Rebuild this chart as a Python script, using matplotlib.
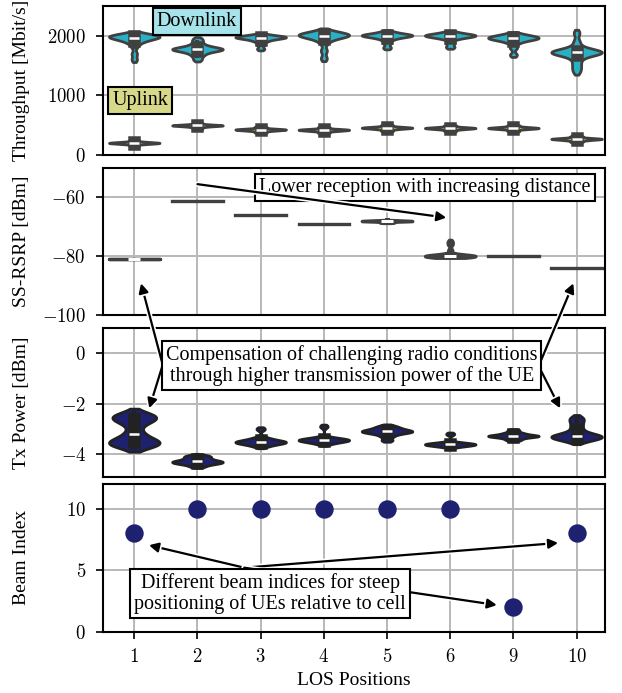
import matplotlib
matplotlib.use("Agg")
import matplotlib.pyplot as plt
import matplotlib.patheffects as pe
from matplotlib.ticker import FuncFormatter
import numpy as np
import pandas as pd
import seaborn as sns

plt.rcParams['font.family'] = ['Liberation Serif', 'DejaVu Serif']
plt.rcParams['mathtext.fontset'] = 'cm'
plt.rcParams['font.size'] = 14

positions = ['1', '2', '3', '4', '5', '6', '9', '10']

# throughput samples per position [Mbit/s]
dl_samples = {
    '1': [1600, 1700, 1820, 1880, 1910, 1930, 1950, 1960, 1970, 1980, 1985, 1990, 1995, 2000, 2010, 2020, 2030],
    '2': [1600, 1660, 1700, 1730, 1750, 1760, 1770, 1775, 1780, 1790, 1800, 1820, 1850, 1900, 1950],
    '3': [1780, 1850, 1900, 1930, 1950, 1960, 1970, 1975, 1980, 1985, 1990, 2000, 2020],
    '4': [1620, 1750, 1880, 1940, 1970, 1990, 2000, 2010, 2015, 2020, 2025, 2030, 2050, 2080],
    '5': [1800, 1880, 1940, 1970, 1990, 2000, 2005, 2010, 2015, 2020, 2040, 2070],
    '6': [1810, 1880, 1950, 1975, 1990, 2000, 2005, 2010, 2020, 2030, 2060],
    '9': [1680, 1800, 1880, 1920, 1940, 1950, 1960, 1965, 1970, 1980, 1990, 2010, 2030],
    '10': [1400, 1480, 1560, 1640, 1690, 1705, 1715, 1720, 1723, 1726, 1730, 1740, 1760, 1800, 1900, 2050],
}
ul_samples = {
    '1': [150, 180, 190, 195, 200, 203, 205, 210, 215, 225, 250],
    '2': [440, 470, 485, 490, 495, 498, 500, 505, 515, 540],
    '3': [380, 405, 415, 422, 427, 430, 435, 445, 470],
    '4': [370, 400, 410, 418, 422, 425, 430, 440, 470],
    '5': [400, 430, 445, 452, 456, 460, 465, 475, 500],
    '6': [400, 428, 440, 447, 452, 455, 460, 470, 495],
    '9': [400, 430, 442, 448, 452, 456, 462, 472, 495],
    '10': [220, 245, 258, 265, 270, 273, 278, 290, 315],
}
# SS-RSRP samples [dBm]
rsrp_samples = {
    '1': [-80.8, -80.8, -80.8],
    '2': [-61.1, -61.1, -61.1],
    '3': [-65.9, -65.9, -65.9],
    '4': [-69.0, -69.0, -69.0],
    '5': [-68.6, -68.4, -68.2, -68.1, -68.1, -68.0, -68.0, -67.9, -67.8],
    '6': [-80.0, -80.0, -80.0, -80.0, -80.0, -80.0, -80.0, -80.0, -80.0, -80.0, -80.0, -80.0,
          -79.8, -78.0, -76.0, -75.0],
    '9': [-80.0, -80.0, -80.0],
    '10': [-84.0, -84.0, -84.0],
}
# Tx power samples [dBm]
tx_samples = {
    '1': [-3.75, -3.7, -3.65, -3.62, -3.58, -3.55, -3.52, -3.48, -3.44, -3.38, -3.28, -3.19,
          -3.05, -2.85, -2.75, -2.68, -2.62, -2.58, -2.55, -2.5, -2.47, -2.42, -2.35],
    '2': [-4.5, -4.42, -4.38, -4.35, -4.33, -4.3, -4.28, -4.25, -4.2, -4.15, -4.1, -4.05],
    '3': [-3.7, -3.62, -3.58, -3.55, -3.53, -3.52, -3.5, -3.47, -3.42, -3.35, -3.0],
    '4': [-3.6, -3.52, -3.48, -3.46, -3.45, -3.44, -3.42, -3.4, -3.35, -2.9],
    '5': [-3.45, -3.3, -3.2, -3.15, -3.12, -3.1, -3.08, -3.05, -3.0, -2.95, -2.88],
    '6': [-3.7, -3.66, -3.63, -3.62, -3.61, -3.6, -3.58, -3.55, -3.2],
    '9': [-3.45, -3.38, -3.32, -3.3, -3.28, -3.27, -3.25, -3.2, -3.15, -3.05],
    '10': [-3.5, -3.42, -3.38, -3.35, -3.32, -3.3, -3.28, -3.25, -3.2, -3.1, -2.95, -2.8, -2.65, -2.55],
}
beam_index = [8, 10, 10, 10, 10, 10, 2, 8]

cyan = '#2ab0c4'
olive = '#c8c83a'
navy = '#1e2070'
edge = '#404040'


def to_df(samples):
    rows = [(k, v) for k in positions for v in samples[k]]
    return pd.DataFrame(rows, columns=['pos', 'val'])


fig = plt.figure(figsize=(6.22, 6.93), dpi=100)
L, W = 0.1651, 0.8076
ax1 = fig.add_axes([L, 0.7763, W, 0.2150])
ax2 = fig.add_axes([L, 0.5455, W, 0.2121])
ax3 = fig.add_axes([L, 0.3121, W, 0.2141])
ax4 = fig.add_axes([L, 0.0885, W, 0.2131])
axes = [ax1, ax2, ax3, ax4]

vkw = dict(x='pos', y='val', order=positions, inner='box', density_norm='width',
           width=0.8, saturation=1, linewidth=2, linecolor=edge, bw_adjust=0.6, cut=1)
sns.violinplot(data=to_df(dl_samples), color=cyan, ax=ax1, **vkw)
sns.violinplot(data=to_df(ul_samples), color=olive, ax=ax1, **vkw)
sns.violinplot(data=to_df(rsrp_samples), color=edge, ax=ax2, **{**vkw, 'linewidth': 2.4})
sns.violinplot(data=to_df(tx_samples), color=navy, ax=ax3,
               **{**vkw, 'linecolor': '#222222'})
ax4.scatter(np.arange(len(positions)), beam_index, s=150, color=navy, zorder=3)

ax1.set_ylim(0, 2500)
ax2.set_ylim(-100, -50)
ax3.set_ylim(-4.9, 1.0)
ax4.set_ylim(0, 12)
ax1.set_yticks([0, 1000, 2000])
ax2.set_yticks([-100, -80, -60])
ax3.set_yticks([-4, -2, 0])
ax4.set_yticks([0, 5, 10])

ylabels = ['Throughput [Mbit/s]', 'SS-RSRP [dBm]', 'Tx Power [dBm]', 'Beam Index']
mfmt = FuncFormatter(lambda v, p: '$%d$' % v)
for ax, lab in zip(axes, ylabels):
    ax.set_xlim(-0.5, 7.45)
    ax.set_xticks(range(len(positions)))
    ax.set_ylabel(lab, fontsize=14)
    ax.set_xlabel('')
    ax.yaxis.set_major_formatter(mfmt)
    ax.grid(True, color='#b8b8b8', linewidth=1.4)
    ax.set_axisbelow(True)
    for s in ax.spines.values():
        s.set_linewidth(1.5)
    ax.tick_params(width=1.2, length=5, pad=7, labelsize=13.5)
    ax.yaxis.set_label_coords(-0.145, 0.5)

for ax in axes[:3]:
    ax.tick_params(axis='x', bottom=False, labelbottom=False)
ax4.set_xticklabels(['$%s$' % p for p in positions])
ax4.set_xlabel('LOS Positions', fontsize=14)

box = dict(boxstyle='square,pad=0.2', facecolor='white', edgecolor='black', linewidth=1.5)
arrow = dict(arrowstyle='-|>', color='black', lw=1.6, mutation_scale=14, shrinkA=0, shrinkB=0,
             path_effects=[pe.withStroke(linewidth=4, foreground='white')])
fs = 14.5

ax1.text(0.99, 2238, 'Downlink', ha='center', va='center', zorder=10, fontsize=fs,
         bbox={**box, 'facecolor': '#a6e3ea'})
ax1.text(0.09, 912, 'Uplink', ha='center', va='center', zorder=10, fontsize=fs,
         bbox={**box, 'facecolor': '#d8d88a'})

ax2.text(4.6, -56.5, 'Lower reception with increasing distance', ha='center', va='center',
         zorder=10, bbox=box, fontsize=fs)
ax2.annotate('', xy=(4.94, -66.9), xytext=(1.0, -55.5), arrowprops=arrow, zorder=11)

ax3.text(3.44, -0.49, 'Compensation of challenging radio conditions\nthrough higher transmission power of the UE',
         ha='center', va='center', zorder=10, bbox=box, linespacing=1.1, fontsize=fs)
for head_ax, hx, hy, tx, ty in [(ax2, 0.106, -89.2, 0.45, -0.45), (ax3, 0.237, -2.18, 0.45, -0.45),
                                (ax2, 6.95, -89.2, 6.4, -0.5), (ax3, 6.74, -2.18, 6.4, -0.5)]:
    ax3.annotate('', xy=(hx, hy), xycoords=head_ax.transData, xytext=(tx, ty), textcoords='data',
                 arrowprops=arrow, zorder=5, annotation_clip=False)

ax4.text(2.15, 3.1, 'Different beam indices for steep\npositioning of UEs relative to cell',
         ha='center', va='center', zorder=10, bbox=box, linespacing=1.1, fontsize=fs)
for hx, hy in [(0.23, 7.03), (6.71, 7.21), (5.74, 2.16)]:
    ax4.annotate('', xy=(hx, hy), xytext=(1.74, 5.2), arrowprops=arrow, zorder=5)

fig.savefig('out.png', dpi=100)
